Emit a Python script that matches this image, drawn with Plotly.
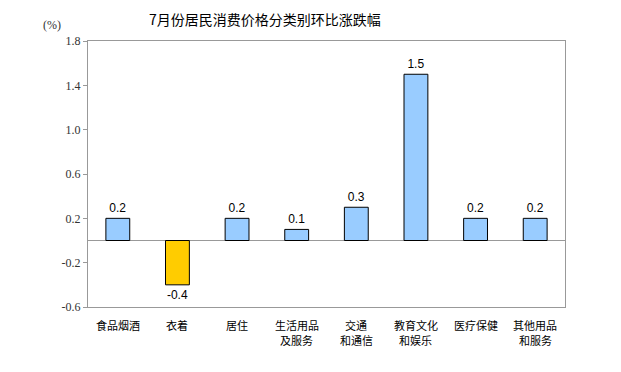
import plotly.graph_objects as go

categories = ["食品烟酒", "衣着", "居住", "生活用品及服务", "交通和通信",
              "教育文化和娱乐", "医疗保健", "其他用品和服务"]
label_lines = [["食品烟酒"], ["衣着"], ["居住"], ["生活用品", "及服务"], ["交通", "和通信"],
               ["教育文化", "和娱乐"], ["医疗保健"], ["其他用品", "和服务"]]
values = [0.2, -0.4, 0.2, 0.1, 0.3, 1.5, 0.2, 0.2]
labels = ["0.2", "-0.4", "0.2", "0.1", "0.3", "1.5", "0.2", "0.2"]
tick_vals = [-0.6, -0.2, 0.2, 0.6, 1.0, 1.4, 1.8]
tick_text = ["-0.6", "-0.2", "0.2", "0.6", "1.0", "1.4", "1.8"]
title = "7月份居民消费价格分类别环比涨跌幅"

colors = ["#FFCC00" if v < 0 else "#99CCFF" for v in values]

fig = go.Figure(go.Bar(
    x=categories, y=values, marker=dict(color=colors, line=dict(color="black", width=1)),
    width=0.4, text=labels, textposition="outside", cliponaxis=False,
    textfont=dict(family="Liberation Sans, Arial", size=12, color="black"),
))

# page body has an 8px default margin; figure is sized to fit the 621x372 window
W, H = 613, 364
L, R, T, B = 80, 56, 33, 65

annotations = [
    dict(text=title, xref="paper", yref="paper", x=(257 - L) / (W - L - R), y=1,
         yshift=22, xanchor="center", yanchor="middle", showarrow=False,
         font=dict(family="Noto Sans CJK SC", size=14, color="black")),
    dict(text="(%)", xref="paper", yref="paper", x=0, xshift=-36, y=1, yshift=16,
         xanchor="center", yanchor="middle", showarrow=False,
         font=dict(family="Liberation Serif, DejaVu Serif, serif", size=12, color="#333")),
]
for cat, lines in zip(categories, label_lines):
    for i, line in enumerate(lines):
        annotations.append(dict(text=line, xref="x", yref="paper", x=cat, y=0,
                                yshift=-18 - 15 * i, xanchor="center", yanchor="middle",
                                showarrow=False,
                                font=dict(family="Noto Sans CJK SC", size=11, color="black")))

fig.update_layout(
    width=W, height=H, margin=dict(l=L, r=R, t=T, b=B, autoexpand=False),
    plot_bgcolor="white", paper_bgcolor="white", showlegend=False,
    font=dict(family="Noto Sans CJK SC", size=11, color="black"),
    annotations=annotations,
)
fig.update_xaxes(showline=True, linecolor="#999", linewidth=1, mirror=True,
                 ticks="", showticklabels=False, automargin=False)
fig.update_yaxes(range=[-0.6, 1.8], tickvals=tick_vals, ticktext=tick_text,
                 showline=True, linecolor="#999", linewidth=1, mirror=True,
                 showgrid=False, zeroline=True, zerolinecolor="#999", zerolinewidth=1,
                 ticks="outside", ticklen=4, tickcolor="#999", automargin=False,
                 tickfont=dict(family="Liberation Serif, DejaVu Serif, serif", size=12, color="#333"))

fig.write_html("out.html")
